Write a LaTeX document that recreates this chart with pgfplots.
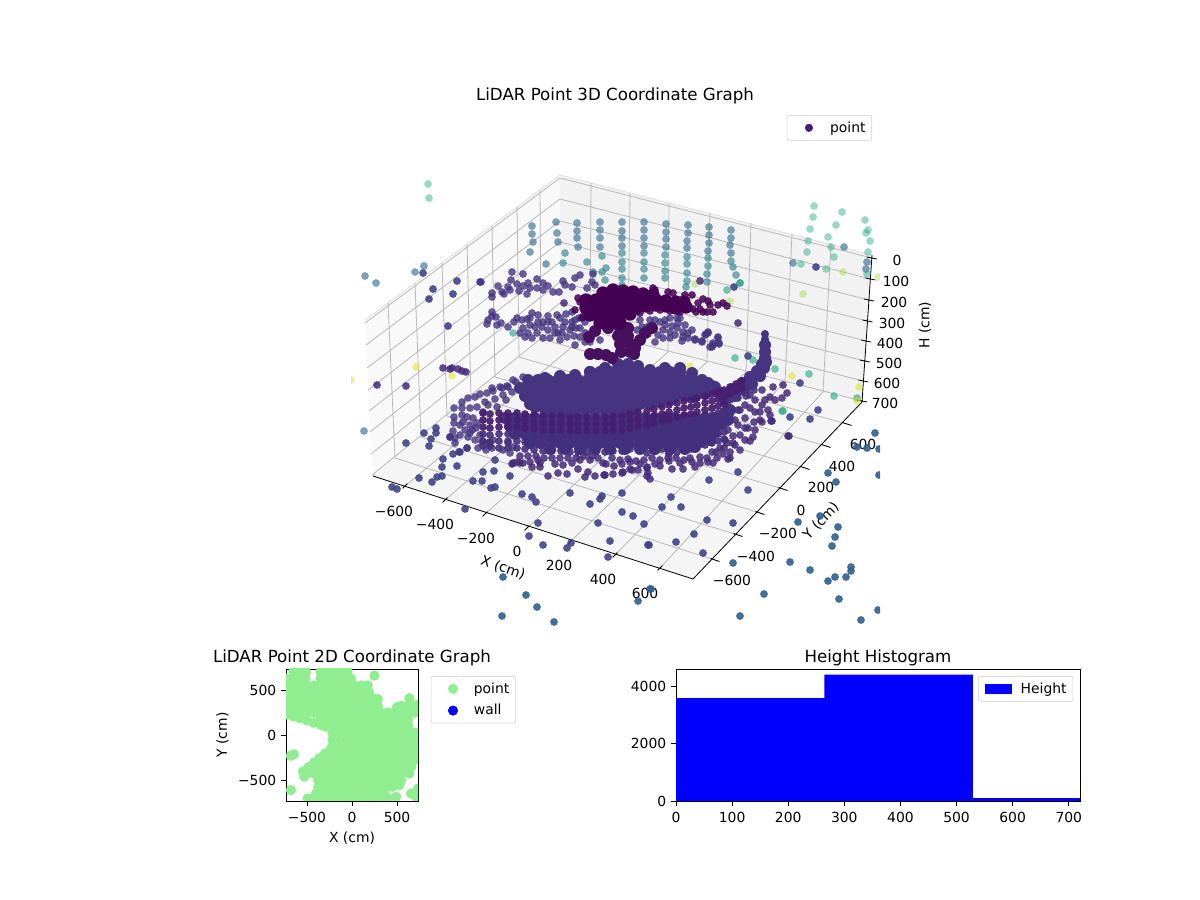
\documentclass[border=0pt]{standalone}
\usepackage{fontspec}
\setmainfont{DejaVu Sans}
\usepackage{pgfplots}
\pgfplotsset{compat=1.18}
\definecolor{LightGreenP}{HTML}{90EE90}
\definecolor{paneL}{rgb}{0.975,0.975,0.975}
\definecolor{paneB}{rgb}{0.95,0.95,0.95}
\definecolor{paneF}{rgb}{0.9625,0.9625,0.9625}
\definecolor{gridc}{rgb}{0.72,0.72,0.72}
\definecolor{cBlueA}{HTML}{31688E}
\definecolor{cBlueB}{HTML}{2A7F8E}
\definecolor{cTeal}{HTML}{22A884}
\definecolor{cLime}{HTML}{A0DA39}
\definecolor{cYel}{HTML}{E0E318}
\definecolor{cFloor}{HTML}{414487}
\definecolor{cLow}{HTML}{33638D}
\definecolor{cRing}{HTML}{453581}
\definecolor{cDark}{HTML}{472A7A}
\definecolor{cDisc}{HTML}{463480}
\definecolor{cSt}{HTML}{481E70}
\definecolor{cStL}{HTML}{452F7C}
\definecolor{cTop}{HTML}{440154}
\definecolor{cStem}{HTML}{46105F}
\definecolor{cBand}{HTML}{41337F}
\definecolor{cPoint}{HTML}{481F70}
\pgfplotsset{
  clip marker paths=true,
  dot/.style 2 args={only marks, mark=*, mark size=2.8bp, mark options={fill=#1, draw=none, fill opacity=#2, draw opacity=0}},
  big/.style 2 args={only marks, mark=*, mark size=#2, mark options={fill=#1, draw=none, fill opacity=1, draw opacity=0}},
  mplaxis/.style={anchor=south west, scale only axis, tick align=outside, tick pos=left,
    major tick length=3.5bp, tick style={black, line width=0.58bp}, axis line style={line width=0.58bp},
    every axis title/.append style={font=\fontsize{12bp}{14bp}\selectfont, yshift=-7bp},
    xticklabel style={yshift=-1bp},
    legend cell align=left,
    legend style={draw=black!20, rounded corners=1.5pt, inner sep=2.5pt, row sep=2.6pt}},
}
\begin{document}
\begin{tikzpicture}[font=\fontsize{10bp}{12bp}\selectfont]
\path[use as bounding box] (0,0) rectangle (864bp,648bp);
% ---- the frame of the 3D view, in picture pixels
\begin{axis}[at={(0,0)}, anchor=south west, scale only axis, width=864bp, height=648bp,
  xmin=0, xmax=1200, ymin=0, ymax=900, y dir=reverse, hide axis, clip=false, unbounded coords=jump]
\addplot[forget plot, fill=paneL, draw=none] coordinates {(373,476)(365,320)(560,175)(560,324)} -- cycle;
\addplot[forget plot, fill=paneB, draw=none] coordinates {(560,175)(872,255)(862,402)(560,324)} -- cycle;
\addplot[forget plot, fill=paneF, draw=none] coordinates {(373,476)(560,324)(862,402)(693,579)} -- cycle;
\addplot[forget plot, gray!25, line width=0.6bp] coordinates {(365,320)(560,175)(872,255)};
% grid
\addplot[forget plot, gridc, line width=0.58bp] coordinates {
(405,486)(590,332)(nan,nan)(445,500)(628,342)(nan,nan)(485,514)(668,352)(nan,nan)(527,528)(707,362)(nan,nan)(570,542)(746,372)(nan,nan)(615,555)(785,382)(nan,nan)(660,568)(823,392)(nan,nan)
(590,332)(591,183)(nan,nan)(628,342)(630,193)(nan,nan)(668,352)(669,203)(nan,nan)(707,362)(710,213)(nan,nan)(746,372)(751,223)(nan,nan)(785,382)(792,234)(nan,nan)(823,392)(831,244)(nan,nan)
(395,458)(715,560)(nan,nan)(421,437)(738,535)(nan,nan)(447,416)(760,513)(nan,nan)(471,396)(783,489)(nan,nan)(495,377)(805,468)(nan,nan)(519,357)(826,446)(nan,nan)(541,339)(847,424)(nan,nan)
(395,458)(388,303)(nan,nan)(421,437)(415,283)(nan,nan)(447,416)(442,263)(nan,nan)(471,396)(467,244)(nan,nan)(495,377)(492,226)(nan,nan)(519,357)(517,207)(nan,nan)(541,339)(540,190)(nan,nan)
(365,323)(560,178)(871.8,258)(nan,nan)(366,345)(560,199)(870.4,279)(nan,nan)(367,368)(560,221)(869,300)(nan,nan)(368,390)(560,242)(867.5,321)(nan,nan)(369,411)(560,262)(866.2,341)(nan,nan)(370,432)(560,282)(864.8,361)(nan,nan)(371,454)(560,303)(863.4,381)(nan,nan)(372,475)(560,323)(862,401)
};
% axis lines and ticks
\addplot[forget plot, black, line width=0.58bp] coordinates {
(373,476)(693,579)(862,402)(872,255)(nan,nan)
(402.6,488.4)(407.4,483.6)(nan,nan)(442.6,502.4)(447.4,497.6)(nan,nan)(482.6,516.4)(487.4,511.6)(nan,nan)(524.6,530.4)(529.4,525.6)(nan,nan)(567.6,544.4)(572.4,539.6)(nan,nan)(612.6,557.4)(617.4,552.6)(nan,nan)(657.6,570.4)(662.4,565.6)(nan,nan)
(710.5,558.5)(719.5,561.5)(nan,nan)(733.5,533.5)(742.5,536.5)(nan,nan)(755.5,511.5)(764.5,514.5)(nan,nan)(778.5,487.5)(787.5,490.5)(nan,nan)(800.5,466.5)(809.5,469.5)(nan,nan)(821.5,444.5)(830.5,447.5)(nan,nan)(842.5,422.5)(851.5,425.5)(nan,nan)
(866.8,257)(876.8,259)(nan,nan)(865.4,278)(875.4,280)(nan,nan)(864,299)(874,301)(nan,nan)(862.5,320)(872.5,322)(nan,nan)(861.2,340)(871.2,342)(nan,nan)(859.8,360)(869.8,362)(nan,nan)(858.4,380)(868.4,382)(nan,nan)(857,400)(867,402)
};
\node[font=\fontsize{12bp}{14bp}\selectfont] at (axis cs:615,96) {LiDAR Point 3D Coordinate Graph};
\node at (axis cs:394,511) {−600};
\node at (axis cs:435,524) {−400};
\node at (axis cs:476,538) {−200};
\node at (axis cs:517,551) {0};
\node at (axis cs:559,565) {200};
\node at (axis cs:603,579) {400};
\node at (axis cs:645,593) {600};
\node at (axis cs:732,580) {−600};
\node at (axis cs:756,556) {−400};
\node at (axis cs:778,533) {−200};
\node at (axis cs:801,510) {0};
\node at (axis cs:821,487) {200};
\node at (axis cs:842,466) {400};
\node at (axis cs:863,444) {600};
\node at (axis cs:897,260) {0};
\node at (axis cs:896,281) {100};
\node at (axis cs:894,302) {200};
\node at (axis cs:892,323) {300};
\node at (axis cs:890,343) {400};
\node at (axis cs:889,363) {500};
\node at (axis cs:887,383) {600};
\node at (axis cs:885,403) {700};
\node[rotate=-19.5] at (axis cs:503,568) {X (cm)};
\node[rotate=46] at (axis cs:821,521) {Y (cm)};
\node[rotate=90] at (axis cs:925,325) {H (cm)};
\end{axis}
% ---- the points of the 3D view, in picture pixels, clipped as in the reference
\begin{axis}[at={(252.72bp,180bp)}, anchor=south west, scale only axis, width=380.88bp, height=381.6bp,
  xmin=351, xmax=880, ymin=120, ymax=650, y dir=reverse, hide axis]
% far wall columns
\addplot[dot={cBlueA}{0.62}] coordinates {
(532,226)(532,234)(533,242)(530,252)(556,222)(557,233)(558,242)(577,223)(577,231)(577,238)(578,247)
(600,222)(600,230)(600,238)(600,247)(622,222)(622,231)(622,238)(622,246)(644,222)(644,230)(644,238)(644,246)
(666,224)(666,232)(666,239)(666,247)(688,225)(688,233)(687,241)(687,248)(709,227)(709,235)(709,243)(708,251)
(731,230)(731,238)(730,245)(731,253)(793,263)(867,262)(866,269)(844,247)(546,264)(365,276)(376,283)(415,272)(424,266)(364,431)
};
\addplot[dot={cBlueB}{0.62}] coordinates {
(565,253)(563,263)(602,256)(587,262)(606,268)(602,272)(605,280)(622,253)(622,262)(622,269)(622,278)(622,285)
(644,253)(644,262)(644,269)(644,278)(665,255)(665,263)(665,271)(665,278)(687,257)(687,264)(687,273)(687,281)(686,287)
(708,258)(708,266)(707,274)(707,282)(731,261)(733,267)(736,275)(740,283)(593,272)
};
\addplot[dot={cTeal}{0.45}] coordinates {
(428,184)(429,198)(814,206)(813,217)(810,229)(808,241)(807,252)(842,212)(836,225)(828,237)(831,247)(834,257)
(865,220)(866,233)(868,230)(870,241)(868,252)(801,264)(826,269)(867,274)
};
\addplot[dot={cTeal}{0.62}] coordinates {
(727,290)(740,283)(735,358)(753,360)(775,369)(809,374)(834,396)(857,398)(783,411)(513,333)(782,411)
};
\addplot[dot={cLime}{0.42}] coordinates {(843,272)(878,277)(803,294)(695,284)(730,301)(617,295)};
\addplot[dot={cYel}{0.5}] coordinates {(416,367)(452,376)(351,380)(792,376)(859,387)(857,401)(690,366)};
% floor and far rings
\addplot[dot={cLow}{0.92}] coordinates {
(503,577)(526,595)(537,607)(502,616)(554,622)(638,601)(650,589)(651,589)
(875,433)(857,447)(867,448)(879,449)(828,473)(836,482)(879,475)(820,516)(798,522)(838,527)(835,537)(832,546)
(790,562)(810,570)(828,581)(835,577)(846,577)(851,567)(851,571)(764,594)(839,599)(740,616)(861,620)(878,610)(733,563)
};
\addplot[dot={cFloor}{0.9}] coordinates {
(406,443)(424,433)(436,428)(436,433)(431,439)(429,446)(450,437)(453,454)(460,452)(467,448)(443,459)(442,467)(457,466)
(419,478)(437,477)(442,476)(432,482)(392,487)(397,489)(465,509)(473,481)(482,481)(483,472)(495,460)(494,471)(510,476)
(491,488)(495,487)(522,494)(532,497)(536,502)(538,523)(529,536)(543,545)(567,548)(571,543)(570,493)(590,504)(600,499)
(602,496)(622,493)(622,512)(633,516)(598,523)(644,524)(610,541)(608,557)(648,545)(671,497)(662,507)(681,507)(707,520)(733,523)
(694,534)(676,542)(649,545)(703,553)(709,480)(738,472)(748,490)(789,436)(810,419)(818,410)(771,421)(790,417)
(448,326)(429,299)(433,289)(423,273)(453,294)(457,281)(480,282)(800,383)(816,267)(748,356)(734,287)
};
\addplot[dot={cDark}{0.85}] coordinates {
(377,385)(406,386)(443,368)(452,368)(450,369)(458,369)(466,372)(462,371)(564,303)(700,281)(738,323)
(548,476)(558,473)(567,474)(578,469)(585,477)(595,476)(605,475)(613,474)(623,472)(632,470)(638,470)(647,468)(647,476)(650,479)(648,473)
(513,463)(520,463)(530,462)(540,463)(532,467)(540,467)(538,460)(555,464)(563,465)(572,463)(588,472)(603,463)(590,460)(580,460)(512,464)(517,462)(523,463)
(783,385)(773,387)(787,393)(782,398)(775,400)(770,397)(772,421)(788,436)(755,412)(754,422)(762,422)(748,428)(753,437)(750,441)(740,435)(733,443)(727,443)
(723,454)(730,452)(728,459)(717,458)(713,463)(707,458)(700,457)(695,467)(683,469)(672,469)(680,463)(669,461)(647,467)(630,469)(622,473)(604,475)
(740,410)(745,418)(735,420)(755,400)(762,405)(728,430)(738,425)(745,405)(733,436)(750,395)(760,412)(725,440)(712,452)(690,458)(660,460)
(730,400)(738,398)(746,396)(754,390)(762,390)(738,410)(750,408)(730,415)(745,428)(755,430)(735,445)(745,440)(720,448)(765,400)(768,410)(760,420)(770,415)(740,450)(730,458)
(612,458)(620,460)(628,459)(636,461)(644,460)(652,458)(660,466)(668,458)(676,458)(684,460)(692,462)(700,463)(708,462)(716,452)(724,448)(598,458)(606,464)(614,466)(622,464)(630,462)(640,464)(655,464)
(520,456)(528,456)(536,456)(544,458)(552,458)(560,458)(568,458)(576,458)(584,456)(592,456)
};
\addplot[dot={cRing}{0.8}] coordinates {
(481,282)(492,293)(492,297)(498,286)(502,292)(504,294)(510,290)(508,287)(511,280)(517,284)(519,291)(523,286)(527,294)(528,283)(530,288)
(537,279)(537,288)(543,290)(543,283)(548,286)(553,292)(559,292)(563,281)(565,285)(572,287)(575,278)(580,275)(587,288)(593,274)(592,282)(595,285)(512,272)(523,274)
(492,312)(492,316)(488,320)(487,324)(496,317)(497,325)(501,323)(508,327)(517,318)(522,320)(532,313)(538,315)(548,316)(557,315)(572,312)(560,318)
(530,325)(535,327)(542,327)(548,330)(520,333)(525,337)(532,338)(543,338)(550,338)(558,333)(567,337)(575,345)(565,322)(575,320)(579,318)
(523,328)(555,327)(563,327)(572,327)(580,328)(580,337)(585,333)(527,319)(543,322)(552,322)(537,333)(570,330)(590,342)(600,340)(585,322)
(514,322)(530,318)(548,322)(566,314)(574,336)(560,340)(585,342)(576,328)(538,322)(528,333)(555,333)(562,333)(572,322)(583,316)
(655,320)(660,322)(665,320)(670,318)(677,318)(665,325)(672,326)(678,323)(685,325)(653,328)(663,330)(670,332)(677,328)(683,332)(692,330)(688,333)
(683,337)(682,341)(688,338)(695,339)(702,341)(706,334)(708,332)(718,337)(719,343)(713,343)(712,347)(642,327)(647,327)(643,333)(637,330)(663,338)(670,338)(640,338)
(708,333)(705,335)(718,338)(713,345)(710,347)(719,344)(695,340)(702,342)(658,335)(675,335)(650,320)(648,334)(655,342)(640,320)(680,318)
(513,380)(523,377)(500,387)(507,386)(492,388)
(454,408)(462,402)(468,398)(475,397)(480,394)(487,393)(493,391)(502,388)(508,387)(516,382)(470,408)(477,407)(485,402)(495,399)(503,395)(520,390)(512,392)
(454,417)(454,423)(462,408)(462,415)(463,422)(483,412)(467,417)(473,418)(477,423)(453,431)(450,437)(455,438)(455,443)(465,430)(468,437)(472,430)(480,435)(482,442)(488,443)(493,440)
(508,443)(513,447)(459,452)(467,448)(478,448)(486,450)(492,448)(503,450)(510,453)(475,440)(460,425)(470,425)(470,433)(476,428)(460,435)(488,405)(497,407)(506,400)
};
% band behind the columns
\addplot[big={cBand}{4.3bp}] coordinates {
(505,418)(515,418)(525,418)(535,418)(545,418)(555,418)(565,418)(575,418)(585,418)(595,418)(605,418)(615,418)(625,418)(635,418)(645,418)(655,418)(665,418)(675,418)(685,418)(695,418)(705,418)(715,418)(725,413)
(510,426)(520,426)(530,426)(540,426)(550,426)(560,426)(570,426)(580,426)(590,426)(600,426)(610,426)(620,426)(630,426)(640,426)(650,426)(660,426)(670,426)(680,426)(690,426)(700,426)(710,426)(720,424)(730,410)
(515,434)(525,434)(535,434)(545,434)(555,434)(565,434)(575,434)(585,434)(595,434)(605,434)(615,434)(625,434)(635,434)(645,434)(655,434)(665,434)(675,434)(685,434)(695,434)(705,434)(715,432)(728,420)
(530,443)(540,443)(550,443)(560,443)(570,443)(580,443)(590,443)(600,443)(610,443)(620,443)(630,443)(640,443)(650,443)(660,443)(670,443)(680,443)(690,443)(700,442)(710,440)
(550,449)(565,449)(580,449)(595,449)(610,449)(625,449)(640,449)(655,449)(670,449)(685,449)(695,447)
};
% lower disc and its swoop
\addplot[big={cDisc}{4.32bp}] coordinates {
(618,364)(628,364)(638,366)(605,368)(590,372)(575,375)(560,376)(545,378)(650,370)(665,368)(680,368)(692,373)(702,380)(712,386)
(590,372)(600,372)(610,372)(620,372)(630,372)(640,372)(650,372)(660,372)(670,372)(680,372)
(528,380)(538,380)(548,380)(558,380)(568,380)(578,380)(588,380)(598,380)(608,380)(618,380)(628,380)(638,380)(648,380)(658,380)(668,380)(678,380)(688,380)(698,382)
(520,388)(530,388)(540,388)(550,388)(560,388)(570,388)(580,388)(590,388)(600,388)(610,388)(620,388)(630,388)(640,388)(650,388)(660,388)(670,388)(680,388)(690,388)(700,388)(710,388)(718,392)
(525,396)(535,396)(545,396)(555,396)(565,396)(575,396)(585,396)(595,396)(605,396)(615,396)(625,396)(635,396)(645,396)(655,396)(665,396)(675,396)(685,396)(695,396)(705,394)
(530,404)(540,404)(550,404)(560,404)(570,404)(580,404)(590,404)(600,404)(610,404)(620,404)(630,404)(640,404)(650,404)(660,402)(670,400)
(535,407)(545,410)(555,410)(565,410)(575,410)(585,410)(595,410)(605,410)(615,410)(625,410)(635,408)
(765,345)(765,352)(765,358)(762,364)(757,371)(750,377)(742,383)(733,389)(724,394)
(766,362)(764,368)(760,376)(752,384)(744,390)(735,396)(725,400)(708,383)(715,387)
};
\addplot[big={cDisc}{2.9bp}] coordinates {(765,334)(765,339)};
% columns of the near wall
\addplot[dot={cStL}{0.9}] coordinates {
(483,434)(483,441)(483,446)(490,435)(490,442)(490,446)(499,434)(499,441)(499,448)(508,434)(508,441)(508,448)(517,434)(517,441)(517,448)
(525,435)(525,442)(525,449)(534,436)(534,443)(534,450)(543,437)(543,444)(543,451)(552,437)(552,444)(552,451)(561,437)(561,444)(561,451)
(570,438)(570,445)(570,452)(578,438)(578,445)(578,452)(587,438)(587,445)(587,452)(596,438)(596,445)(596,452)(605,438)(605,445)(605,452)
(613,437)(613,444)(613,451)(622,437)(622,444)(622,451)(630,435)(630,442)(630,449)(638,433)(638,440)(638,447)(647,432)(647,439)(647,446)(647,453)
(654,430)(654,437)(654,444)(654,451)(662,428)(662,435)(662,442)(662,449)(669,426)(669,433)(669,440)(669,447)(669,454)
(677,424)(677,431)(677,438)(677,445)(677,452)(684,422)(684,429)(684,436)(684,443)(684,450)(691,421)(691,428)(691,435)(691,442)(691,449)
(697,419)(697,426)(697,433)(697,440)(697,447)(705,417)(705,424)(705,431)(705,438)(705,445)(712,415)(712,422)(712,429)(712,436)(712,443)
(718,413)(718,420)(718,427)(718,434)(718,441)(724,411)(724,418)(724,425)(724,432)(724,439)
};
\addplot[dot={cSt}{0.92}] coordinates {
(483,413)(483,420)(483,427)(490,414)(490,421)(490,428)(499,413)(499,420)(499,427)(508,413)(508,420)(508,427)(517,413)(517,420)(517,427)
(525,414)(525,421)(525,428)(534,415)(534,422)(534,429)(543,416)(543,423)(543,430)(552,416)(552,423)(552,430)(561,416)(561,423)(561,430)
(570,417)(570,424)(570,431)(578,417)(578,424)(578,431)(587,417)(587,424)(587,431)(596,417)(596,424)(596,431)(605,417)(605,424)(605,431)
(613,416)(613,423)(613,430)(622,416)(622,423)(622,430)(630,414)(630,421)(630,428)(638,412)(638,419)(638,426)(647,411)(647,418)(647,425)
(654,409)(654,416)(654,423)(662,407)(662,414)(662,421)(669,405)(669,412)(669,419)(677,403)(677,410)(677,417)(684,401)(684,408)(684,415)
(691,400)(691,407)(691,414)(697,398)(697,405)(697,412)(705,396)(705,403)(705,410)(712,394)(712,401)(712,408)(718,392)(718,399)(718,406)(724,390)(724,397)(724,404)
(730,387)(730,394)(736,384)(736,391)(742,381)(742,388)
};
% stem, arms and the upper dark disc
\addplot[big={cStem}{4.32bp}] coordinates {
(618,336)(628,336)(620,344)(630,344)(621,352)(630,352)(590,354)(598,354)(606,355)(612,358)(589,337)(595,331)
(652,328)(645,333)(640,340)(635,348)(634,354)(608,328)(620,328)(628,328)
};
\addplot[big={cTop}{4.8bp}] coordinates {
(603,293)(613,290)(623,291)(633,292)(643,294)(653,295)
(586,300)(596,300)(606,300)(616,300)(626,300)(636,300)(646,300)(656,300)(666,301)(676,302)(684,302)
(586,308)(596,308)(606,308)(616,308)(626,308)(636,308)(646,306)(656,305)(666,306)(676,308)(686,307)
(590,315)(600,315)(610,315)(620,315)(630,314)(600,323)(610,323)(620,323)
};
\addplot[dot={cTop}{0.85}] coordinates {
(668,292)(673,293)(685,295)(692,295)(688,308)(693,309)(698,303)(703,299)(708,301)(707,312)(713,312)(718,305)(723,303)(727,306)(710,305)(653,288)(655,290)(700,309)(580,302)(578,298)(582,318)(575,310)
(696,312)(703,312)(680,312)(670,311)(660,310)(650,311)(640,313)
};
\end{axis}
% ---- the legend of the 3D view
\begin{axis}[at={(0,0)}, anchor=south west, scale only axis, width=864bp, height=648bp,
  xmin=0, xmax=1200, ymin=0, ymax=900, hide axis,
  legend style={at={(872/1200,785/900)}, anchor=north east, draw=black!20, rounded corners=1.5pt, inner sep=2.5pt}, legend cell align=left]
\addplot[only marks, mark=none, legend image code/.code={\fill[opacity=0] (0,-3bp) rectangle (26bp,3bp); \fill[cPoint] (13bp,0) circle (2.7bp);}] coordinates {(2000,2000)};
\addlegendentry{point}
\end{axis}
% ---- 2D scatter
\begin{axis}[mplaxis, at={(205.92bp,71.28bp)}, width=95.04bp, height=95.04bp,
  xmin=-733, xmax=733, ymin=-733, ymax=733,
  xtick={-500,0,500}, xticklabels={−500,0,500}, ytick={-500,0,500}, yticklabels={−500,0,500},
  title={LiDAR Point 2D Coordinate Graph}, xlabel={X (cm)}, ylabel={Y (cm)},
  legend style={at={(1.098,0.947)}, anchor=north west}]
\addplot[only marks, mark=*, mark size=3.55bp, mark options={fill=LightGreenP, draw=LightGreenP, line width=0.3bp},
  legend image code/.code={\fill[opacity=0] (0,-3.5bp) rectangle (26bp,3.5bp); \fill[LightGreenP] (13bp,0) circle (3.4bp);}] coordinates {
(-650,700)(-575,700)(-510,700)(-350,700)(-275,700)(-200,700)(-125,700)(-50,700)(160,735)(249,660)
(-725,625)(-650,625)(-575,625)(-520,625)(-350,625)(-275,625)(-200,625)(-125,625)(-50,625)(-10,625)
(-725,550)(-650,550)(-575,550)(-500,550)(-425,550)(-350,550)(-275,550)(-200,550)(-125,550)(-50,550)(25,550)(100,550)(175,550)
(-725,475)(-650,475)(-575,475)(-500,475)(-425,475)(-350,475)(-275,475)(-200,475)(-125,475)(-50,475)(25,475)(100,475)(175,475)(190,475)
(-725,400)(-650,400)(-575,400)(-500,400)(-425,400)(-350,400)(-275,400)(-200,400)(-125,400)(-50,400)(25,400)(100,400)(175,400)(250,400)(286,400)(638,408)
(-725,325)(-650,325)(-575,325)(-500,325)(-425,325)(-350,325)(-275,325)(-200,325)(-125,325)(-50,325)(25,325)(100,325)(175,325)(250,325)(286,325)(500,310)(550,325)(625,325)(720,334)
(-725,250)(-650,250)(-575,250)(-500,250)(-425,250)(-350,250)(-275,250)(-200,250)(-125,250)(-50,250)(25,250)(100,250)(175,250)(250,250)(325,250)(400,250)(475,250)(550,250)(625,250)(700,250)
(-725,230)(-650,205)(-575,185)(-500,161)(-425,137)(-350,113)(-290,93)
(-350,175)(-275,175)(-200,175)(-125,175)(-50,175)(25,175)(100,175)(175,175)(250,175)(325,175)(400,175)(475,175)(550,175)(625,175)
(-275,100)(-200,100)(-125,100)(-50,100)(25,100)(100,100)(175,100)(250,100)(325,100)(400,100)(475,100)(550,100)(625,100)
(-216,25)(-125,25)(-50,25)(25,25)(100,25)(175,25)(250,25)(325,25)(400,25)(475,25)(550,25)(625,25)(700,25)
(-216,-50)(-125,-50)(-50,-50)(25,-50)(100,-50)(175,-50)(250,-50)(325,-50)(400,-50)(475,-50)(550,-50)(625,-50)(680,-50)
(-216,-125)(-125,-125)(-50,-125)(25,-125)(100,-125)(175,-125)(250,-125)(325,-125)(400,-125)(475,-125)(550,-125)(625,-125)(700,-125)
(-236,-153)(-300,-205)(-360,-255)(-420,-305)(-480,-355)(-544,-406)
(-230,-200)(-200,-200)(-125,-200)(-50,-200)(25,-200)(100,-200)(175,-200)(250,-200)(325,-200)(400,-200)(475,-200)(550,-200)(625,-200)(680,-200)
(-735,-225)(-680,-230)(-645,-215)
(-300,-275)(-275,-275)(-200,-275)(-125,-275)(-50,-275)(25,-275)(100,-275)(175,-275)(250,-275)(325,-275)(400,-275)(475,-275)(550,-275)(625,-275)(700,-275)
(-425,-350)(-350,-350)(-275,-350)(-200,-350)(-125,-350)(-50,-350)(25,-350)(100,-350)(175,-350)(250,-350)(325,-350)(400,-350)(475,-350)(550,-350)(625,-350)(660,-350)
(-500,-425)(-425,-425)(-350,-425)(-275,-425)(-200,-425)(-125,-425)(-50,-425)(25,-425)(100,-425)(175,-425)(250,-425)(325,-425)(400,-425)(475,-425)(550,-425)(638,-427)
(-530,-464)(-375,-500)(-300,-500)(-225,-500)(-150,-500)(-75,-500)(0,-500)(75,-500)(150,-500)(225,-500)(300,-500)(375,-500)(450,-500)(545,-500)
(-375,-575)(-300,-575)(-225,-575)(-150,-575)(-75,-575)(0,-575)(75,-575)(150,-575)(225,-575)(300,-575)(375,-575)(450,-575)(527,-556)(-679,-612)
(-400,-650)(-350,-650)(-275,-650)(-200,-650)(-125,-650)(-50,-650)(25,-650)(100,-650)(175,-650)(250,-650)(325,-650)(360,-650)(490,-686)(657,-650)(731,-594)
(-493,-705)(-425,-700)(-350,-700)(-275,-700)(-200,-700)(-125,-700)(-50,-700)(25,-700)(100,-700)(175,-700)(250,-700)(325,-700)(400,-700)(712,-686)
};
\addlegendentry{point}
\addlegendimage{legend image code/.code={\fill[opacity=0] (0,-3.5bp) rectangle (26bp,3.5bp); \fill[blue] (13bp,0) circle (3.4bp);}}
\addlegendentry{wall}
\end{axis}
% ---- histogram
\begin{axis}[mplaxis, at={(486.72bp,71.28bp)}, width=290.88bp, height=95.04bp,
  xmin=0, xmax=720, ymin=0, ymax=4620,
  xtick={0,100,200,300,400,500,600,700}, xticklabels={0,100,200,300,400,500,600,700},
  ytick={0,2000,4000}, yticklabels={0,2000,4000},
  title={Height Histogram},
  legend style={at={(0.983,0.947)}, anchor=north east}]
\addplot[ybar interval, fill=blue, draw=none,
  legend image code/.code={\fill[opacity=0] (0,-3.5bp) rectangle (26bp,3.5bp); \fill[blue, sharp corners] (2bp,-3.5bp) rectangle (22bp,3.5bp);}] coordinates {(0,3600)(264.5,4420)(529,100)(793.5,100)};
\addlegendentry{Height}
\end{axis}
\end{tikzpicture}
\end{document}
